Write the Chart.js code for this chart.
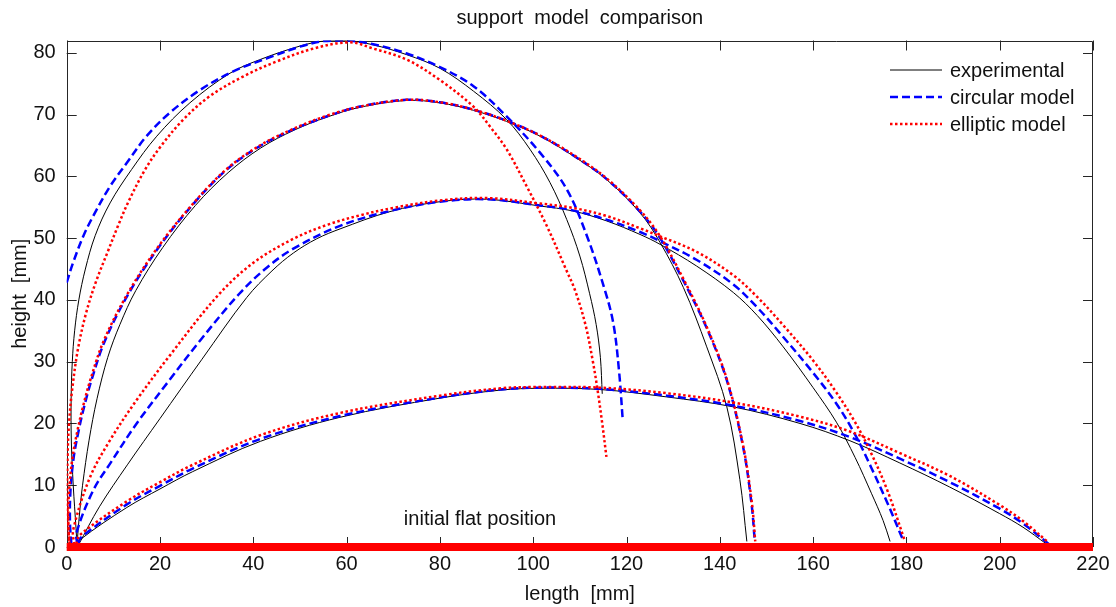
<!DOCTYPE html>
<html lang="en">
<head>
<meta charset="UTF-8">
<title>support model comparison</title>
<style>
  html, body { margin: 0; padding: 0; background: #fff; }
  #wrap { width: 1116px; height: 607px; }
</style>
</head>
<body>
<div id="wrap"><canvas id="chart"></canvas></div>
<script src="https://cdn.jsdelivr.net/npm/chart.js"></script>
<script>
// curves, [length, height] in mm
// A = highest support, D = lowest
const expA = [[2.2,0.3],[2.0,3],[1.4,10],[1.0,17],[0.95,24],[1.2,30],[1.7,35],[2.6,40],[4.0,45],[6.1,50.4],[9.3,55.7],[13.9,61.1],[19.3,66.5],[26.4,71.9],[35,76.7],[41.4,78.9],[50,81.1],[55,81.9],[60,82],[65.7,81.3],[72.9,79.7],[80,77.5],[87.2,73.8],[94.3,69.2],[99.3,64.4],[103.6,59],[107.2,53],[110,47.1],[112.1,41],[113.5,36],[114.4,30.7],[114.8,24.8]];
const circA = [[0,42.8],[1.4,46.1],[3.6,50.4],[5.7,53.6],[9.3,58.4],[12.9,62.2],[17.1,66.5],[22.1,70.3],[28.6,74],[35.7,77],[42.9,79.1],[50,81],[55,81.9],[60,82],[65.7,81.4],[72.9,79.9],[80,77.7],[87.2,74.6],[94.3,69.7],[101.5,63.8],[107.2,57.9],[111.5,50.4],[115.4,41.5],[117.2,36.1],[118.4,28.5],[119.2,20.5]];
const ellA = [[0.5,1],[0.1,8],[0.2,15],[0.5,20],[1.1,25],[2.4,32],[4.2,38],[6.3,43],[8.9,48],[11.0,52],[13.3,56],[16.8,61.1],[20.2,64.9],[25,69.2],[30.7,73],[37.9,76.2],[45,78.6],[52.9,80.7],[60.7,81.7],[65.7,80.7],[72.9,78.9],[80,75.6],[87.2,71.3],[90.7,68.1],[94.3,64.4],[98.6,58.4],[102.9,52],[107,45],[109,41.5],[111.2,36],[112.8,30],[113.8,25.4],[114.8,20],[115.7,14.6]];

const expB = [[2.2,0.3],[2.7,5],[3.4,10],[4.8,17.3],[6.5,24],[8.8,30.7],[11.4,36],[14.8,41.5],[20.6,48.5],[27.6,55.3],[34.6,60.6],[41.6,64.6],[48.8,67.5],[55.8,69.6],[62.9,71.2],[72.9,72.3],[80,71.9],[87.2,70.7],[94.3,68.9],[101.5,66.5],[108.6,63.3],[115.7,59.5],[122.9,54.1],[127.2,49.3],[132.2,42],[137.2,32.4],[141.5,22.7],[144.3,10.9],[145.8,0.9]];
const circB = [[1.0,0.4],[0.7,4],[0.8,9],[1.5,14.5],[2.6,19],[3.7,22.6],[5.3,27],[8.2,33.4],[13.4,41.2],[20,48.8],[27.1,55.5],[34.3,61.1],[41.4,64.9],[48.6,67.6],[55.7,69.7],[62.9,71.3],[72.9,72.4],[80,72],[87.2,70.8],[94.3,69],[101.5,66.6],[108.6,63.4],[115.7,59.6],[122.9,54.3],[127.2,50],[132.2,43.1],[137.1,35.6],[141.5,27],[145,16.2],[146.8,7],[147.5,0.9]];
const ellB = [[0.6,0.5],[0.35,4],[0.5,9],[1.25,14.5],[2.35,19],[3.45,22.6],[5.05,27],[7.95,33.4],[13.2,41.2],[19.8,48.8],[27,55.5],[34.3,61.2],[41.4,65],[48.6,67.7],[55.7,69.8],[62.9,71.3],[72.9,72.4],[80,72],[87.2,70.8],[94.3,69],[101.5,66.6],[108.6,63.5],[115.7,59.7],[122.9,54.5],[127.2,50.3],[132.2,43.4],[137.1,35.8],[141.5,27.2],[145,16.4],[146.9,7],[147.6,0.9]];

const expC = [[2.5,0.3],[7,6.5],[13,13.3],[20,20.8],[29,30.4],[38.6,40.4],[44,44.7],[48.6,47.6],[53.6,49.9],[58.6,51.5],[69.3,54.3],[80,55.9],[90,56.3],[101.5,55.2],[108.5,54.4],[115.7,52.8],[122.9,50.6],[127.2,49],[135,45.5],[142.9,41.2],[148,37.5],[153.6,32.4],[160,25.8],[165,20.2],[169,14.5],[172.5,8.7],[175,4.3],[176.5,0.9]];
const circC = [[2.3,0.4],[2.1,2.3],[5.7,9.2],[9.3,13.5],[15,20],[22,27],[29,33.8],[37,41],[43,45.3],[48.6,48.3],[58.6,52],[69.3,54.4],[80,55.9],[90,56.3],[101.5,55.3],[108.5,54.5],[115.7,53],[122.9,51],[127.2,49.5],[135,46.5],[142.9,42.5],[148,38.8],[153.6,34],[160,28.2],[165,23.2],[169,18.2],[172.5,12.8],[176,7],[179.4,0.9]];
const ellC = [[1.6,0.4],[1.4,2.8],[5,11.3],[9.3,17.3],[15,23.8],[22,30.9],[32.5,40.8],[40,46],[48.6,49.9],[56,52.2],[62.9,53.7],[70,54.9],[80,56.1],[90,56.5],[101.5,55.6],[108.5,54.9],[115.7,53.6],[122.9,51.6],[127.2,50.3],[135,47.8],[142.9,44],[148,40.5],[153.6,35.9],[160,30.2],[165,25],[169,20.2],[172.5,15.1],[176,9],[179.7,0.9]];

const expD = [[2.5,0.3],[2.9,1.2],[12.9,6.4],[20,9.4],[27,12.2],[41.5,17.1],[58.6,21],[80,24.1],[93,25.4],[101.5,25.7],[114.3,25.5],[128.6,24.3],[142.8,22.7],[157.2,20],[167.9,17.2],[178.6,13.6],[189.3,9.7],[200,5.4],[205,3.2],[210,0.5]];
const circD = [[2.5,0.5],[3,1.5],[12.9,6.9],[20,9.9],[27,12.7],[41.5,17.5],[58.6,21.2],[80,24.2],[93,25.5],[101.5,25.8],[114.3,25.6],[128.6,24.5],[142.8,22.9],[157.2,20.4],[167.9,17.8],[178.6,14.3],[189.3,10.5],[200,6.2],[205,3.8],[210.5,0.5]];
const ellD = [[2,0.5],[2.9,2],[12.9,7.4],[20,10.5],[27,13.3],[41.5,18.1],[58.6,21.7],[80,24.5],[93,25.7],[101.5,25.9],[114.3,25.8],[128.6,24.9],[142.8,23.4],[157.2,21.1],[167.9,18.7],[178.6,15.2],[189.3,11.5],[200,6.8],[205,4.2],[210.5,0.7]];

const flatLine = [[0,0],[220,0]];

const legendNames = ['experimental', 'circular model', 'elliptic model'];
const flatLabel = 'initial flat position';
const flatLabelAt = [88.6, 4.4];

const xMin = 0, xMax = 220, xStep = 20;
const yMin = 0, yMax = 82, yStep = 10;

const FONT = "'Liberation Sans', Arial, sans-serif";
const TEXT = '#111';
const styles = [
  { color: '#000000', width: 1, dash: [], order: 3 },
  { color: '#0000ff', width: 2.5, dash: [8, 4], order: 2 },
  { color: '#ff0000', width: 2.5, dash: [2.5, 2.5], order: 1 }
];

function curve(points, kind) {
  const s = styles[kind];
  return {
    data: points.map(p => ({ x: p[0], y: p[1] })),
    showLine: true,
    borderColor: s.color,
    borderWidth: s.width,
    borderDash: s.dash,
    pointRadius: 0,
    tension: 0.35,
    order: s.order
  };
}

const datasets = [
  curve(expA, 0), curve(circA, 1), curve(ellA, 2),
  curve(expB, 0), curve(circB, 1), curve(ellB, 2),
  curve(expC, 0), curve(circC, 1), curve(ellC, 2),
  curve(expD, 0), curve(circD, 1), curve(ellD, 2),
  {
    data: flatLine.map(p => ({ x: p[0], y: p[1] })),
    showLine: true,
    borderColor: '#ff0000',
    borderWidth: 8,
    pointRadius: 0,
    clip: 10,
    order: 0
  }
];

// inward ticks on all four sides plus the box, MATLAB style
const framePlugin = {
  id: 'frame',
  beforeDatasetsDraw(chart) {
    const { ctx, chartArea: a, scales: { x, y } } = chart;
    ctx.save();
    ctx.strokeStyle = '#262626';
    ctx.lineWidth = 1;
    ctx.beginPath();
    x.ticks.forEach(t => {
      const px = Math.round(x.getPixelForValue(t.value)) + 0.5;
      ctx.moveTo(px, a.bottom); ctx.lineTo(px, a.bottom - 10);
      ctx.moveTo(px, a.top); ctx.lineTo(px, a.top + 10);
    });
    y.ticks.forEach(t => {
      const py = Math.round(y.getPixelForValue(t.value)) + 0.5;
      ctx.moveTo(a.left, py); ctx.lineTo(a.left + 10, py);
      ctx.moveTo(a.right, py); ctx.lineTo(a.right - 10, py);
    });
    ctx.rect(Math.round(a.left) + 0.5, Math.round(a.top) + 0.5,
             Math.round(a.width) - 1, Math.round(a.height));
    ctx.stroke();
    ctx.restore();
  },
  afterDraw(chart) {
    const { ctx, scales: { x, y } } = chart;
    ctx.save();
    ctx.font = '20px ' + FONT;
    ctx.fillStyle = TEXT;
    ctx.textBaseline = 'middle';

    // legend, top right inside the axes
    legendNames.forEach((name, i) => {
      const s = styles[i];
      const ly = 70 + i * 27;
      ctx.beginPath();
      ctx.strokeStyle = s.color;
      ctx.lineWidth = s.width;
      ctx.setLineDash(s.dash);
      ctx.moveTo(890, ly);
      ctx.lineTo(942, ly);
      ctx.stroke();
      ctx.setLineDash([]);
      ctx.textAlign = 'left';
      ctx.fillText(name, 950, ly + 1);
    });

    ctx.textAlign = 'center';
    ctx.fillText(flatLabel, x.getPixelForValue(flatLabelAt[0]), y.getPixelForValue(flatLabelAt[1]));
    ctx.restore();
  }
};

new Chart(document.getElementById('chart'), {
  type: 'scatter',
  data: { datasets },
  options: {
    responsive: true,
    maintainAspectRatio: false,
    animation: false,
    layout: { padding: { top: 0, right: 23, bottom: 0, left: 0 } },
    plugins: {
      legend: { display: false },
      tooltip: { enabled: false },
      title: {
        display: true,
        text: 'support  model  comparison',
        fullSize: false,
        color: TEXT,
        font: { family: FONT, size: 20, weight: 'normal', lineHeight: 1.2 },
        padding: { top: 6, bottom: 10.5 }
      }
    },
    scales: {
      x: {
        type: 'linear',
        min: xMin, max: xMax,
        ticks: { stepSize: xStep, color: TEXT, padding: 5, maxRotation: 0,
                 font: { family: FONT, size: 20 } },
        grid: { display: false, drawTicks: false },
        border: { display: false },
        title: { display: true, text: 'length  [mm]', color: TEXT,
                 font: { family: FONT, size: 20 }, padding: { top: 0, bottom: 1 } },
        afterFit(scale) { scale.height = 60; }
      },
      y: {
        type: 'linear',
        min: yMin, max: yMax,
        ticks: { stepSize: yStep, includeBounds: false, color: TEXT, padding: 11,
                 font: { family: FONT, size: 20 } },
        grid: { display: false, drawTicks: false },
        border: { display: false },
        title: { display: true, text: 'height  [mm]', color: TEXT,
                 font: { family: FONT, size: 20 }, padding: { top: 8, bottom: 0 } },
        afterFit(scale) { scale.width = 66.7; }
      }
    }
  },
  plugins: [framePlugin]
});
</script>
</body>
</html>
